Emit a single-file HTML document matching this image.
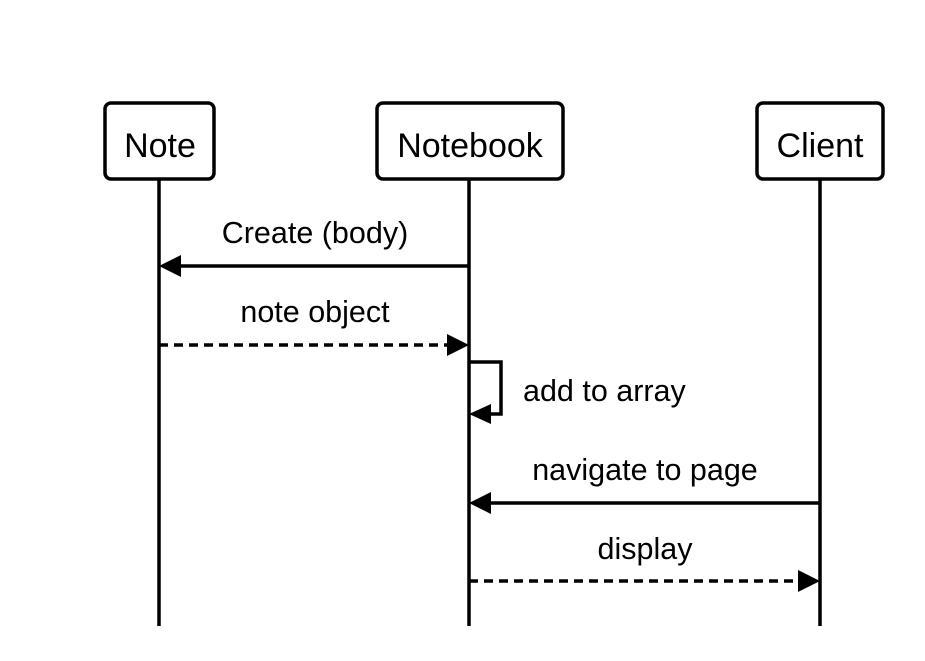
<!DOCTYPE html>
<html><head><style>body{margin:0;background:#fff}</style></head><body>
<svg width="925" height="656" xmlns="http://www.w3.org/2000/svg" font-family="Liberation Sans, Arial, sans-serif">
<rect width="925" height="656" fill="#fff"/>
<g stroke="#000" stroke-width="3.5" fill="none">
<line x1="159" y1="179" x2="159" y2="626"/>
<line x1="469" y1="179" x2="469" y2="626"/>
<line x1="820" y1="179" x2="820" y2="626"/>
<rect x="105" y="103" width="109" height="76" rx="6" fill="#fff"/>
<rect x="377" y="103" width="186" height="76" rx="6" fill="#fff"/>
<rect x="757" y="103" width="126" height="76" rx="6" fill="#fff"/>
<line x1="469" y1="266" x2="178" y2="266"/>
<line x1="159" y1="345" x2="450" y2="345" stroke-dasharray="9,6"/>
<polyline points="469,362 501,362 501,414 488,414"/>
<line x1="820" y1="503" x2="488" y2="503"/>
<line x1="469" y1="581" x2="801" y2="581" stroke-dasharray="9,6"/>
</g>
<g fill="#000">
<polygon points="159,266 181,255 181,277"/>
<polygon points="469,345 447,334 447,356"/>
<polygon points="469,414 491,404 491,424"/>
<polygon points="469,503 491,492 491,514"/>
<polygon points="820,581 798,570 798,592"/>
</g>
<g font-size="34" text-anchor="middle" fill="#000">
<text x="160" y="157">Note</text>
<text x="470" y="157">Notebook</text>
<text x="820" y="157">Client</text>
</g>
<g font-size="30.5" fill="#000" text-anchor="middle">
<text x="315" y="243">Create (body)</text>
<text x="315" y="322">note object</text>
<text x="523" y="401" text-anchor="start">add to array</text>
<text x="645" y="480">navigate to page</text>
<text x="645" y="559">display</text>
</g>
</svg>
</body></html>
